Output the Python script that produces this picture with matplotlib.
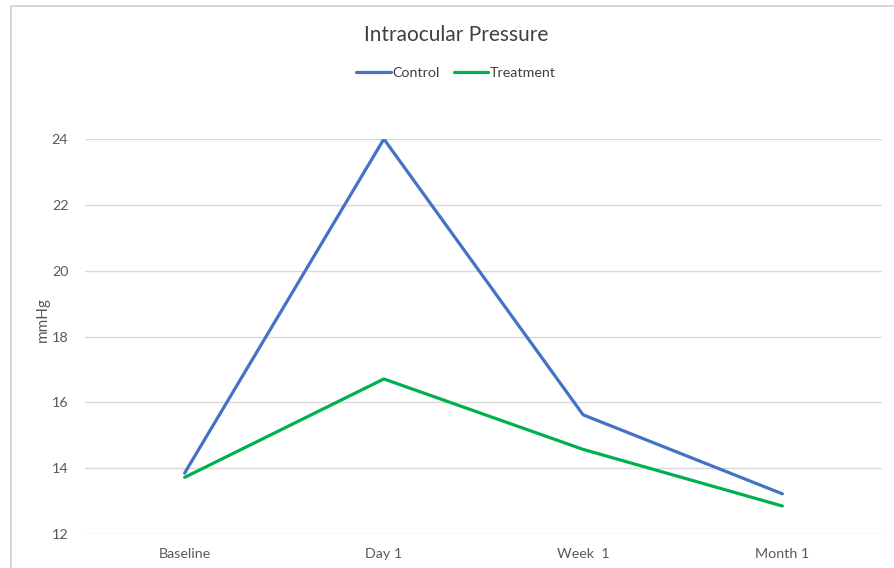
import matplotlib.pyplot as plt
from matplotlib.patches import Rectangle

plt.rcParams['font.family'] = ['Lato', 'DejaVu Sans']

categories = ["Baseline", "Day 1", "Week  1", "Month 1"]
control = [13.85, 24.0, 15.62, 13.22]
treatment = [13.72, 16.71, 14.57, 12.85]

W, H = 895, 568
fig = plt.figure(figsize=(W / 100, H / 100), dpi=100)
ax = fig.add_axes([85 / W, 1 - 534 / H, (882 - 85) / W, (534 - 139) / H])

# outer chart frame (cropped on right/bottom in the reference)
fig.patches.append(Rectangle((11 / W, -0.1), 1.2, 1 - 6 / H + 0.1,
                             transform=fig.transFigure, fill=False,
                             edgecolor="#D0D0D0", linewidth=1.2))

x = range(len(categories))
ax.plot(x, control, color="#4472C4", linewidth=2.3, label="Control",
        solid_capstyle="round")
ax.plot(x, treatment, color="#00B050", linewidth=2.3, label="Treatment",
        solid_capstyle="round")

ax.set_xlim(-0.5, 3.5)
ax.set_ylim(12, 24)
ax.set_yticks(range(12, 25, 2))
ax.set_xticks(list(x))
ax.set_xticklabels(categories)
ax.grid(axis="y", color="#D9D9D9", linewidth=1)
ax.set_axisbelow(True)
for s in ax.spines.values():
    s.set_visible(False)
ax.tick_params(length=0, labelsize=10.3, colors="#595959", pad=12)
ax.tick_params(axis="x", pad=10)
ax.set_ylabel("mmHg", fontsize=11, color="#595959")
ax.yaxis.set_label_coords(-0.044, 0.542)

cx = 456 / W
fig.text(cx, 1 - 35 / H, "Intraocular Pressure", ha="center", va="center",
         fontsize=15, color="#404040")
fig.legend(loc="center", bbox_to_anchor=(cx, 1 - 73 / H), ncol=2,
           frameon=False, fontsize=10.3, handlelength=2.4, handletextpad=0.1,
           columnspacing=1.0, labelcolor="#404040")

fig.savefig("out.png", dpi=100)
